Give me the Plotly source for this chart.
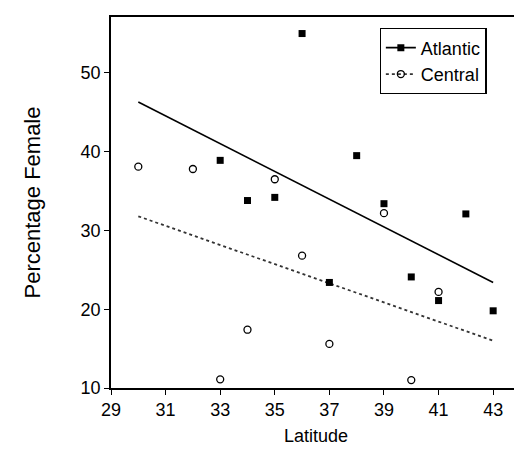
import plotly.graph_objects as go

# Data
atl_lat = [33, 34, 35, 36, 37, 38, 39, 40, 41, 42, 43]
atl_pct = [38.9, 33.8, 34.2, 55.0, 23.4, 39.5, 33.4, 24.1, 21.1, 32.1, 19.8]

cen_lat = [30, 32, 33, 34, 35, 36, 37, 39, 40, 41]
cen_pct = [38.1, 37.8, 11.1, 17.4, 36.5, 26.8, 15.6, 32.2, 11.0, 22.2]

trend_lat = [30, 43]
atl_trend = [46.3, 23.4]
cen_trend = [31.8, 16.0]

x_ticks = [29, 31, 33, 35, 37, 39, 41, 43]
y_ticks = [10, 20, 30, 40, 50]

fig = go.Figure()

fig.add_trace(go.Scatter(x=trend_lat, y=atl_trend, mode="lines",
                         line=dict(color="black", width=1.6), showlegend=False))
fig.add_trace(go.Scatter(x=trend_lat, y=cen_trend, mode="lines",
                         line=dict(color="#333", width=1.8, dash="dot"), showlegend=False))
fig.add_trace(go.Scatter(x=atl_lat, y=atl_pct, mode="markers",
                         marker=dict(symbol="square", size=7, color="black"),
                         showlegend=False))
fig.add_trace(go.Scatter(x=cen_lat, y=cen_pct, mode="markers",
                         marker=dict(symbol="circle-open", size=7, color="black",
                                     line=dict(width=1.3)),
                         showlegend=False))
# legend entries
fig.add_trace(go.Scatter(x=[None], y=[None], mode="lines+markers", name="Atlantic",
                         line=dict(color="black", width=1.6),
                         marker=dict(symbol="square", size=7, color="black")))
fig.add_trace(go.Scatter(x=[None], y=[None], mode="lines+markers", name="Central",
                         line=dict(color="#333", width=1.8, dash="dot"),
                         marker=dict(symbol="circle-open", size=7, color="black",
                                     line=dict(width=1.3))))

axis_common = dict(showline=True, linecolor="black", linewidth=1.5, mirror=True,
                   ticks="outside", ticklen=5, tickwidth=1.3, tickcolor="black",
                   showgrid=False, zeroline=False,
                   tickfont=dict(size=18, color="black"))

fig.update_xaxes(range=[29, 44.02], tickvals=x_ticks, title_text="Latitude",
                 title_font=dict(size=18, color="black"),
                 title_standoff=10, **axis_common)
fig.update_yaxes(range=[10, 57.1], tickvals=y_ticks, title_text="Percentage Female",
                 title_font=dict(size=22, color="black"),
                 title_standoff=34, **axis_common)

fig.update_layout(
    width=522, height=452,
    margin=dict(l=103, r=7, t=7, b=72),
    plot_bgcolor="white", paper_bgcolor="white",
    font=dict(family="Liberation Sans, Arial, sans-serif", color="black"),
    legend=dict(x=0.655, y=0.97, xanchor="left", yanchor="top",
                bordercolor="black", borderwidth=1.3, bgcolor="white",
                font=dict(size=18), tracegroupgap=0, itemwidth=30),
)

fig.write_html("out.html")
